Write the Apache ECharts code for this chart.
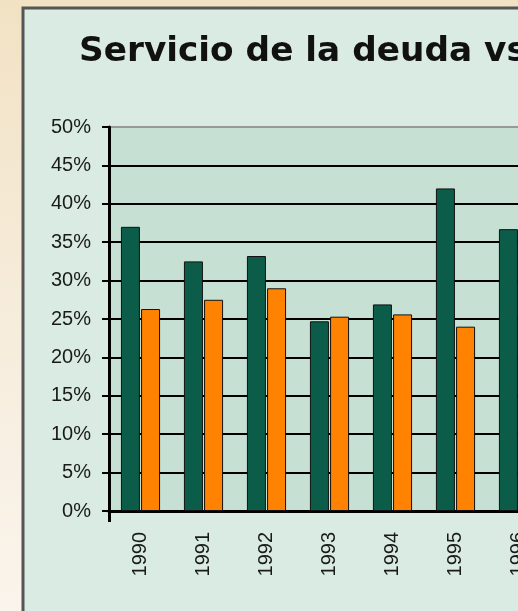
<!DOCTYPE html>
<html>
<head>
<meta charset="utf-8">
<script src="https://cdn.jsdelivr.net/npm/echarts@6/dist/echarts.min.js"></script>
<style>
  html, body { margin: 0; padding: 0; overflow: hidden; }
  body { width: 518px; height: 611px; background: linear-gradient(180deg, #f2e2c4 0%, #f6ecdb 50%, #faf4ec 100%); }
  #chart { width: 560px; height: 611px; }
</style>
</head>
<body>
<div id="chart"></div>
<script>
// años visibles (el gráfico original está recortado a la derecha)
var years = ['1990', '1991', '1992', '1993', '1994', '1995', '1996'];
var serieVerde = [37.0, 32.5, 33.2, 24.7, 26.9, 42.0, 36.7];
// 1996 naranja queda fuera del recorte
var serieNaranja = [26.3, 27.5, 29.0, 25.3, 25.6, 24.0, null];

var chart = echarts.init(document.getElementById('chart'));

var font = "'Liberation Sans', Arial, sans-serif";

chart.setOption({
  backgroundColor: 'transparent',
  animation: false,
  title: {
    text: 'Servicio de la deuda vs',
    left: 74,
    top: 30,
    textStyle: {
      fontFamily: "'DejaVu Sans', sans-serif",
      fontSize: 34.3,
      fontWeight: 'bold',
      color: '#111'
    }
  },
  graphic: [
    {
      type: 'rect',
      z: -10,
      shape: { x: 23, y: 8, width: 600, height: 700 },
      style: { fill: '#d9ebe3', stroke: '#555', lineWidth: 3 }
    }
  ],
  grid: {
    left: 109,
    right: 10,
    top: 127,
    bottom: 100,
    show: true,
    borderWidth: 0,
    backgroundColor: '#c6e0d3'
  },
  xAxis: {
    type: 'category',
    data: years,
    axisLine: { lineStyle: { color: '#000', width: 3 } },
    // sólo la marca inicial, prolonga el eje vertical
    axisTick: {
      show: true,
      length: 11,
      interval: function (i) { return i === 0; },
      lineStyle: { color: '#000', width: 3 }
    },
    axisLabel: {
      rotate: 90,
      margin: 21,
      fontFamily: font,
      fontSize: 20,
      color: '#1a1a1a'
    }
  },
  yAxis: {
    type: 'value',
    min: 0,
    max: 50,
    interval: 5,
    axisLine: { show: true, lineStyle: { color: '#000', width: 3 } },
    axisTick: { show: true, length: 7, lineStyle: { color: '#000', width: 2 } },
    axisLabel: {
      formatter: '{value}%',
      margin: 18,
      fontFamily: font,
      fontSize: 20,
      color: '#1a1a1a'
    },
    splitLine: {
      lineStyle: {
        color: ['#000', '#000', '#000', '#000', '#000', '#000', '#000', '#000', '#000', '#000', '#999'],
        width: 2
      }
    }
  },
  series: [
    {
      name: 'Serie 1',
      type: 'bar',
      data: serieVerde,
      barWidth: 19,
      barGap: '6%',
      itemStyle: { color: '#0b5d49', borderColor: '#111', borderWidth: 1 }
    },
    {
      name: 'Serie 2',
      type: 'bar',
      data: serieNaranja,
      barWidth: 19,
      itemStyle: { color: '#ff8200', borderColor: '#111', borderWidth: 1 }
    }
  ]
});
</script>
</body>
</html>
